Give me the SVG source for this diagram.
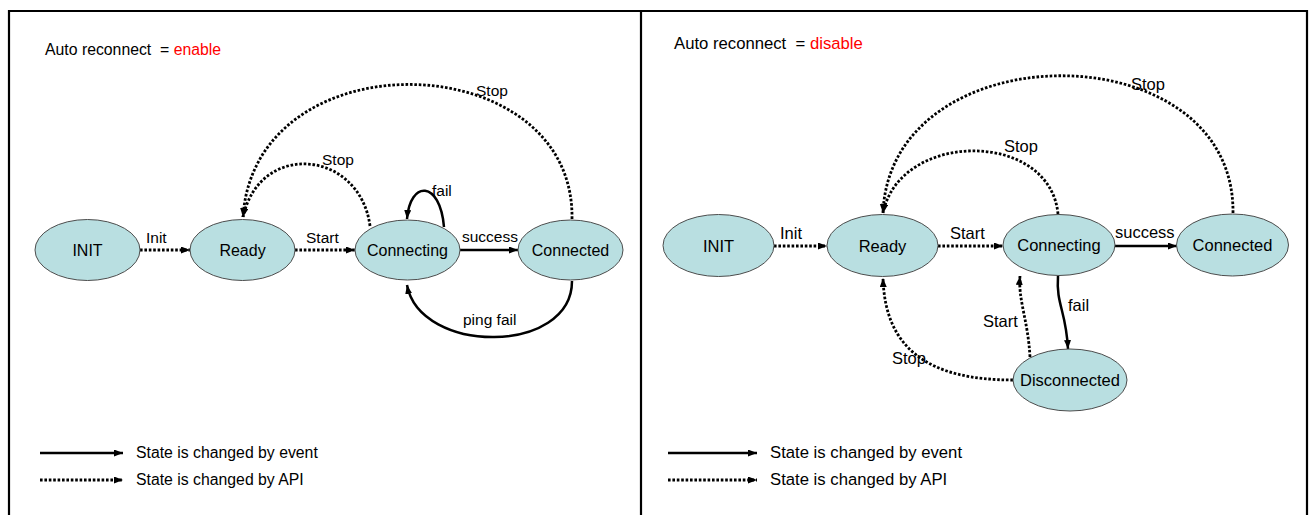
<svg xmlns="http://www.w3.org/2000/svg" width="1311" height="515" viewBox="0 0 1311 515">
<style>
text{font-family:"Liberation Sans",Arial,sans-serif;fill:#000;white-space:pre}
.t{font-size:15.8px}
.tr{font-size:16.7px}
.red{fill:#ff0000}
.nl{font-size:16px;text-anchor:middle}
.nlr{font-size:16.5px;text-anchor:middle}
.el{font-size:15.5px}
.elr{font-size:16.5px}
.node ellipse{fill:#b9dfe1;stroke:#4d4d4d;stroke-width:1}
.solid{fill:none;stroke:#000;stroke-width:2.5;marker-end:url(#ah)}
.dot{fill:none;stroke:#000;stroke-width:2.8;stroke-dasharray:2.6 1.8;marker-end:url(#ah)}
.frame{stroke:#000;stroke-width:2.2;fill:none}
</style>
<defs>
<marker id="ah" markerUnits="userSpaceOnUse" markerWidth="10" markerHeight="8" refX="9" refY="3.5" orient="auto">
<path d="M0,0 L9,3.5 L0,7 z" fill="#000"/>
</marker>
</defs>
<rect x="0" y="0" width="1311" height="515" fill="#fff"/>
<g id="frame">
<path class="frame" d="M9,515 L9,11 L1307,11 L1307,515 M641,11 L641,515"/>
</g>
<g id="titles">
<text class="t" x="45" y="55" xml:space="preserve">Auto reconnect  = <tspan class="red">enable</tspan></text>
<text class="tr" x="674" y="49" xml:space="preserve">Auto reconnect  = <tspan class="red">disable</tspan></text>
</g>
<g id="connectors">
<path class="dot" d="M140,250 L190,250"/>
<path class="dot" d="M295,250 L355,250"/>
<path class="solid" d="M460,250 L518,250"/>
<path class="solid" d="M444,227 C440,180 410,180 407,219"/>
<path class="solid" d="M572,281 C572,355 420,355 407,285"/>
<path class="dot" d="M370,226 C360,150 260,140 243,217"/>
<path class="dot" d="M572,219 C575,45 255,35 243,217"/>
<path class="dot" d="M774,246 L827,246"/>
<path class="dot" d="M938,246 L1003,246"/>
<path class="solid" d="M1115,246 L1177,246"/>
<path class="solid" d="M1058,276 C1056,305 1066,310 1068,349"/>
<path class="dot" d="M1030,357 C1028,320 1018,300 1020,276"/>
<path class="dot" d="M1013,380 C930,380 885,350 883,278"/>
<path class="dot" d="M1058,214 C1050,130 900,130 883,213"/>
<path class="dot" d="M1233,213 C1235,30 890,30 883,213"/>
</g>
<g id="edge-labels">
<text class="el" x="146" y="243">Init</text>
<text class="el" x="306" y="243">Start</text>
<text class="el" x="462" y="242">success</text>
<text class="el" x="432" y="196">fail</text>
<text class="el" x="463" y="325">ping fail</text>
<text class="el" x="322" y="165">Stop</text>
<text class="el" x="476" y="96">Stop</text>
<text class="elr" x="780" y="239">Init</text>
<text class="elr" x="950" y="239">Start</text>
<text class="elr" x="1115" y="238">success</text>
<text class="elr" x="1068" y="311">fail</text>
<text class="elr" x="983" y="327">Start</text>
<text class="elr" x="892" y="364">Stop</text>
<text class="elr" x="1004" y="152">Stop</text>
<text class="elr" x="1131" y="90">Stop</text>
</g>
<g id="L-INIT" class="node"><ellipse cx="87.5" cy="250" rx="52.5" ry="30.5"/><text class="nl" x="87.5" y="256">INIT</text></g>
<g id="L-Ready" class="node"><ellipse cx="242.5" cy="250" rx="52.5" ry="30.5"/><text class="nl" x="242.5" y="256">Ready</text></g>
<g id="L-Connecting" class="node"><ellipse cx="407.5" cy="250" rx="52.5" ry="30"/><text class="nl" x="407.5" y="256">Connecting</text></g>
<g id="L-Connected" class="node"><ellipse cx="570.5" cy="250" rx="52.5" ry="30"/><text class="nl" x="570.5" y="256">Connected</text></g>
<g id="R-INIT" class="node"><ellipse cx="718.5" cy="245.5" rx="55.5" ry="31"/><text class="nlr" x="718.5" y="251.5">INIT</text></g>
<g id="R-Ready" class="node"><ellipse cx="882.5" cy="245.5" rx="55.5" ry="31"/><text class="nlr" x="882.5" y="251.5">Ready</text></g>
<g id="R-Connecting" class="node"><ellipse cx="1059" cy="245" rx="56" ry="30.5"/><text class="nlr" x="1059" y="251">Connecting</text></g>
<g id="R-Connected" class="node"><ellipse cx="1232.5" cy="245" rx="56" ry="31"/><text class="nlr" x="1232.5" y="251">Connected</text></g>
<g id="R-Disconnected" class="node"><ellipse cx="1070" cy="380" rx="57" ry="31"/><text class="nlr" x="1070" y="386">Disconnected</text></g>
<g id="legend">
<path class="solid" d="M40,453 L123,453"/>
<path class="dot" d="M40,480 L123,480"/>
<text class="t" x="136" y="458">State is changed by event</text>
<text class="t" x="136" y="485">State is changed by API</text>
<path class="solid" d="M668,453 L757,453"/>
<path class="dot" d="M668,480 L757,480"/>
<text class="tr" x="770" y="458">State is changed by event</text>
<text class="tr" x="770" y="485">State is changed by API</text>
</g>
</svg>
